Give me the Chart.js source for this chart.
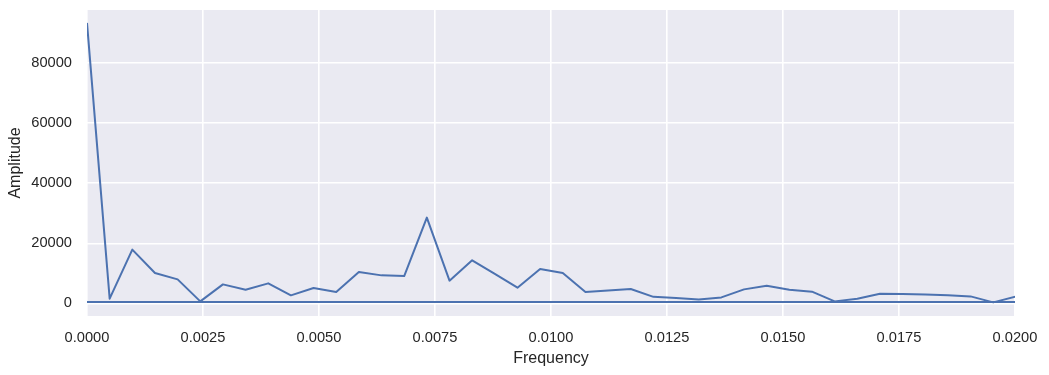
<!DOCTYPE html>
<html>
<head>
<meta charset="utf-8">
<script src="https://cdn.jsdelivr.net/npm/chart.js@4.4.1/dist/chart.umd.min.js"></script>
<style>
  html, body { margin: 0; padding: 0; background: #ffffff; }
  #wrap { width: 1049px; height: 375px; position: relative; }
</style>
</head>
<body>
<div id="wrap"><canvas id="c"></canvas></div>
<script>
// Frequencies (k / 2048)
const frequencies = [
  0, 0.00048828, 0.00097656, 0.00146484, 0.00195313, 0.00244141, 0.00292969, 0.00341797,
  0.00390625, 0.00439453, 0.00488281, 0.00537109, 0.00585938, 0.00634766, 0.00683594,
  0.00732422, 0.0078125, 0.00830078, 0.00878906, 0.00927734, 0.00976563, 0.01025391,
  0.01074219, 0.01123047, 0.01171875, 0.01220703, 0.01269531, 0.01318359, 0.01367188,
  0.01416016, 0.01464844, 0.01513672, 0.015625, 0.01611328, 0.01660156, 0.01708984,
  0.01757813, 0.01806641, 0.01855469, 0.01904297, 0.01953125, 0.02001953
];
// Amplitude values
const amplitudes = [
  93400, 1570, 17900, 10100, 8000, 670, 6330, 4570,
  6670, 2670, 5100, 3770, 10430, 9330, 9100,
  28570, 7570, 14330, 9800, 5230, 11430, 10100,
  3770, 4270, 4770, 2170, 1830, 1330, 2000,
  4670, 5900, 4570, 3900, 670, 1570, 3230,
  3100, 3000, 2670, 2330, 330, 2300
];
// Wrap-around segment (last positive -> most negative frequency), crossing the view
const wrapFrequencies = [0.5, -0.5];
const wrapAmplitudes = [500, 500];

const xTicks = [0, 0.0025, 0.005, 0.0075, 0.01, 0.0125, 0.015, 0.0175, 0.02];
const yTicks = [0, 20000, 40000, 60000, 80000];
const xLimits = [0, 0.02];
const yLimits = [-4200, 97700];

const mainPoints = frequencies.map((f, i) => ({ x: f, y: amplitudes[i] }));
const wrapPoints = wrapFrequencies.map((f, i) => ({ x: f, y: wrapAmplitudes[i] }));

const bgPlugin = {
  id: 'plotBg',
  beforeDraw(chart) {
    const { ctx, chartArea: a } = chart;
    ctx.save();
    ctx.fillStyle = '#EAEAF2';
    ctx.fillRect(a.left, a.top, a.right - a.left, a.bottom - a.top);
    ctx.restore();
  }
};

const FONT = "'Liberation Sans', Arial, sans-serif";
const TXT = '#262626';

new Chart(document.getElementById('c'), {
  type: 'line',
  data: {
    datasets: [
      {
        data: mainPoints,
        borderColor: '#4C72B0',
        borderWidth: 2,
        pointRadius: 0,
        tension: 0,
        fill: false,
        borderJoinStyle: 'round'
      },
      {
        data: wrapPoints,
        borderColor: '#4C72B0',
        borderWidth: 2,
        pointRadius: 0,
        tension: 0,
        fill: false
      }
    ]
  },
  options: {
    responsive: true,
    maintainAspectRatio: false,
    animation: false,
    layout: { padding: { left: 0, right: 34, top: 10, bottom: 0 } },
    plugins: { legend: { display: false }, tooltip: { enabled: false } },
    scales: {
      x: {
        type: 'linear',
        min: xLimits[0],
        max: xLimits[1],
        afterBuildTicks(scale) { scale.ticks = xTicks.map(v => ({ value: v })); },
        afterFit(scale) { scale.height = 59; scale.paddingLeft = 0; scale.paddingRight = 0; },
        grid: { color: '#ffffff', lineWidth: 1.6, drawTicks: false },
        border: { display: false },
        ticks: {
          padding: 13.5,
          color: TXT,
          font: { family: FONT, size: 14.67 },
          maxRotation: 0,
          callback: v => Number(v).toFixed(4)
        },
        title: {
          display: true,
          text: 'Frequency',
          color: TXT,
          font: { family: FONT, size: 16 },
          padding: { top: 0, bottom: 6.5 }
        }
      },
      y: {
        type: 'linear',
        min: yLimits[0],
        max: yLimits[1],
        afterBuildTicks(scale) { scale.ticks = yTicks.map(v => ({ value: v })); },
        afterFit(scale) { scale.width = 87; scale.paddingTop = 0; scale.paddingBottom = 0; },
        grid: { color: '#ffffff', lineWidth: 1.6, drawTicks: false },
        border: { display: false },
        ticks: {
          padding: 15,
          color: TXT,
          font: { family: FONT, size: 14.67 },
          callback: v => String(v)
        },
        title: {
          display: true,
          text: 'Amplitude',
          color: TXT,
          font: { family: FONT, size: 16 },
          padding: { top: 6, bottom: 0 }
        }
      }
    }
  },
  plugins: [bgPlugin]
});
</script>
</body>
</html>
